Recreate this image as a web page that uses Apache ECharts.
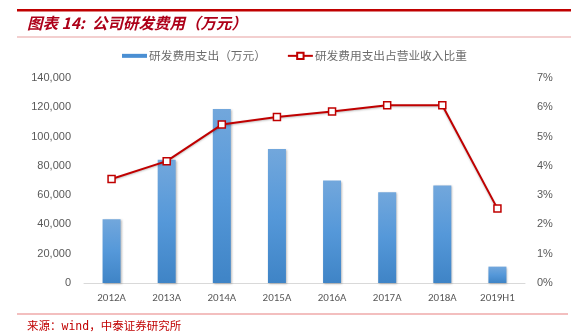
<!DOCTYPE html>
<html>
<head>
<meta charset="utf-8">
<script src="https://cdn.jsdelivr.net/npm/echarts@6/dist/echarts.min.js"></script>
<style>
  html, body { margin: 0; padding: 0; background: #fff; }
  #chart { width: 571px; height: 336px; }
</style>
</head>
<body>
<div id="chart"></div>
<script>
// Categories and series values
var categories = ['2012A', '2013A', '2014A', '2015A', '2016A', '2017A', '2018A', '2019H1'];
var rdExpense = [43600, 84200, 118900, 91500, 70000, 62000, 66600, 11200];      // 万元
var rdRatio = [3.55, 4.16, 5.41, 5.67, 5.86, 6.07, 6.07, 2.54];                  // %
var leftTicks = { min: 0, max: 140000, interval: 20000 };
var rightTicks = { min: 0, max: 7, interval: 1 };

var chart = echarts.init(document.getElementById('chart'));
var labelColor = '#595959';
var cjk = '"Noto Sans CJK SC", "Noto Sans", sans-serif';

chart.setOption({
  animation: false,
  backgroundColor: '#fff',
  title: [
    {
      text: '图表 14:  公司研发费用（万元）',
      left: 27, top: 15, padding: 0,
      textStyle: { color: '#ad0019', fontSize: 15.5, fontWeight: 'bold', fontStyle: 'italic', fontFamily: cjk }
    },
    {
      text: '来源：wind，中泰证券研究所',
      left: 27, top: 321, padding: 0,
      textStyle: { color: '#c00000', fontSize: 11.5, fontWeight: 'normal', fontFamily: '"DejaVu Sans Mono", "Noto Sans CJK SC", monospace' }
    }
  ],
  graphic: [
    { type: 'rect', shape: { x: 17, y: 9, width: 554, height: 2.5 }, style: { fill: '#c00000' } },
    { type: 'rect', shape: { x: 17, y: 36.5, width: 554, height: 1 }, style: { fill: '#e8a0a0' } },
    { type: 'rect', shape: { x: 17, y: 313.5, width: 551, height: 1 }, style: { fill: '#e88080' } }
  ],
  legend: {
    top: 50, left: 122, padding: 0,
    itemGap: 21,
    itemWidth: 25, itemHeight: 8,
    textStyle: { color: '#6b6b6b', fontSize: 11.7, fontFamily: cjk, padding: [0, 0, 0, -3] },
    data: [
      {
        name: '研发费用支出（万元）',
        icon: 'path://M0,0h25v4h-25z',
        symbolKeepAspect: true,
        itemStyle: { color: '#4a8fd3' }
      },
      { name: '研发费用支出占营业收入比重' }
    ]
  },
  grid: { left: 84, right: 46, top: 78, bottom: 53 },
  xAxis: {
    type: 'category',
    data: categories,
    axisLine: { lineStyle: { color: '#d9d9d9', width: 1 } },
    axisTick: { show: false },
    axisLabel: { color: labelColor, fontSize: 11, margin: 10, fontFamily: 'Calibri, "Liberation Sans", sans-serif' }
  },
  yAxis: [
    {
      type: 'value',
      min: leftTicks.min, max: leftTicks.max, interval: leftTicks.interval,
      splitLine: { show: false },
      axisLine: { show: false },
      axisTick: { show: false },
      axisLabel: {
        color: labelColor, fontSize: 11, margin: 13,
        formatter: function (v) { return v.toLocaleString('en-US'); }
      }
    },
    {
      type: 'value',
      min: rightTicks.min, max: rightTicks.max, interval: rightTicks.interval,
      splitLine: { show: false },
      axisLine: { show: false },
      axisTick: { show: false },
      axisLabel: { color: labelColor, fontSize: 11, margin: 12, formatter: '{value}%' }
    }
  ],
  series: [
    {
      name: '研发费用支出（万元）',
      type: 'bar',
      data: rdExpense,
      barWidth: 18,
      itemStyle: {
        color: new echarts.graphic.LinearGradient(0, 0, 0, 1, [
          { offset: 0, color: '#72a7dc' },
          { offset: 0.5, color: '#5598d9' },
          { offset: 1, color: '#3f84c6' }
        ]),
        shadowColor: 'rgba(0,0,0,0.25)', shadowBlur: 2, shadowOffsetX: 1, shadowOffsetY: 1
      }
    },
    {
      name: '研发费用支出占营业收入比重',
      type: 'line',
      yAxisIndex: 1,
      data: rdRatio,
      symbol: 'rect',
      symbolSize: 7,
      lineStyle: { color: '#c00000', width: 2, shadowColor: 'rgba(0,0,0,0.25)', shadowBlur: 2, shadowOffsetY: 1 },
      itemStyle: { color: '#ffffff', borderColor: '#c00000', borderWidth: 1.5 }
    }
  ]
});
</script>
</body>
</html>
